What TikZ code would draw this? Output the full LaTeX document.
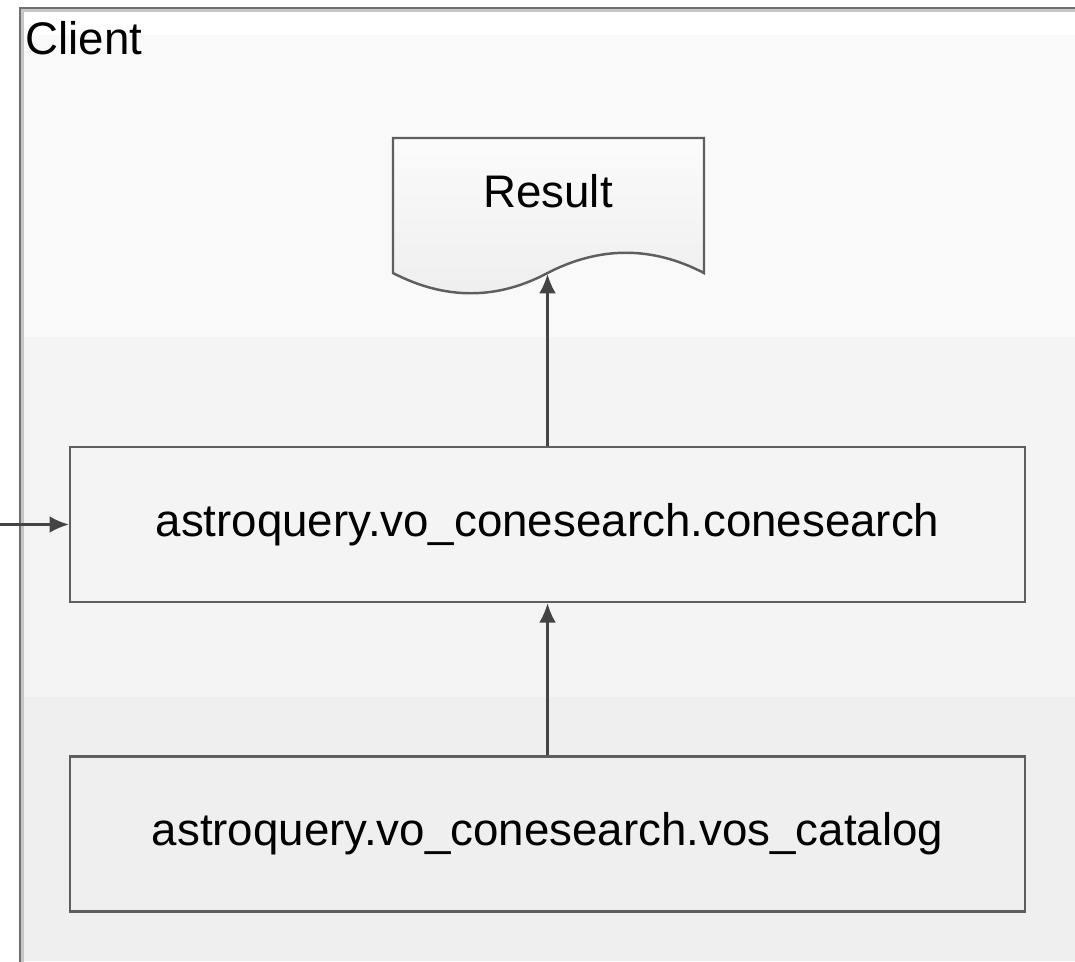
\documentclass[tikz,border=0pt]{standalone}
\usepackage{fontspec}
\setmainfont{Liberation Sans}
\usetikzlibrary{arrows.meta}
\definecolor{bandA}{HTML}{F9F9F9}
\definecolor{bandB}{HTML}{F4F4F4}
\definecolor{bandC}{HTML}{EFEFEF}
\definecolor{edgegray}{HTML}{5E5E5E}
\definecolor{framegray}{HTML}{707070}
\definecolor{arrowgray}{HTML}{444444}
\definecolor{docTop}{HTML}{FBFBFB}
\definecolor{docBot}{HTML}{EEEEEE}

\begin{document}
\begin{tikzpicture}[x=0.02cm,y=-0.02cm,
    every node/.style={font=\fontsize{26}{30}\selectfont},
    stagebox/.style={draw=edgegray, line width=1.4pt, minimum width=19.1cm,
      minimum height=3.1cm, inner sep=0pt},
    flow/.style={draw=arrowgray, line width=1.3pt, -{Latex[length=11pt,width=9.5pt]}}]
      \useasboundingbox (0,0) rectangle (1075,961);
      \clip (0,0) rectangle (1075,961);

       %draw background bands
      \foreach \ya/\yb/\bandcol in {8/35/white, 35/337/bandA, 337/697/bandB, 697/961/bandC} {%
        \fill[\bandcol] (20,\ya) rectangle (1075,\yb);
      }
       %draw client frame
      \draw[framegray!40, line width=1.2pt] (22.5,1000) |- (1100,10.5);
      \draw[framegray, line width=1.6pt] (20,1000) |- (1100,8);
      \node[anchor=base west, inner sep=0pt] (client) at (25,54) {Client};

       %draw result document
      \path[draw=edgegray, line width=1.4pt, top color=docTop, bottom color=docBot]
        (393,138) -- (704,138) -- (704,273)
        .. controls (652,246) and (600,246) .. (547.5,273)
        .. controls (497,300) and (445,300) .. (393,273) -- cycle;
      \node[anchor=base] (result) at (548,207) {Result};
      \coordinate (resultwave) at (547.5,274);

       %draw boxes
      \node[stagebox] (cone) at (547.5,524.5) {astroquery.vo\_conesearch.conesearch};
      \node[stagebox] (vos) at (547.5,834) {astroquery.vo\_conesearch.vos\_catalog};

       %draw arrows
      \coordinate (feed) at (0,524.5);
      \draw[flow] (feed) -- (cone.west);
      \draw[flow] (vos.north) -- (cone.south);
      \draw[flow] (cone.north) -- (resultwave);
    \end{tikzpicture}
\end{document}
